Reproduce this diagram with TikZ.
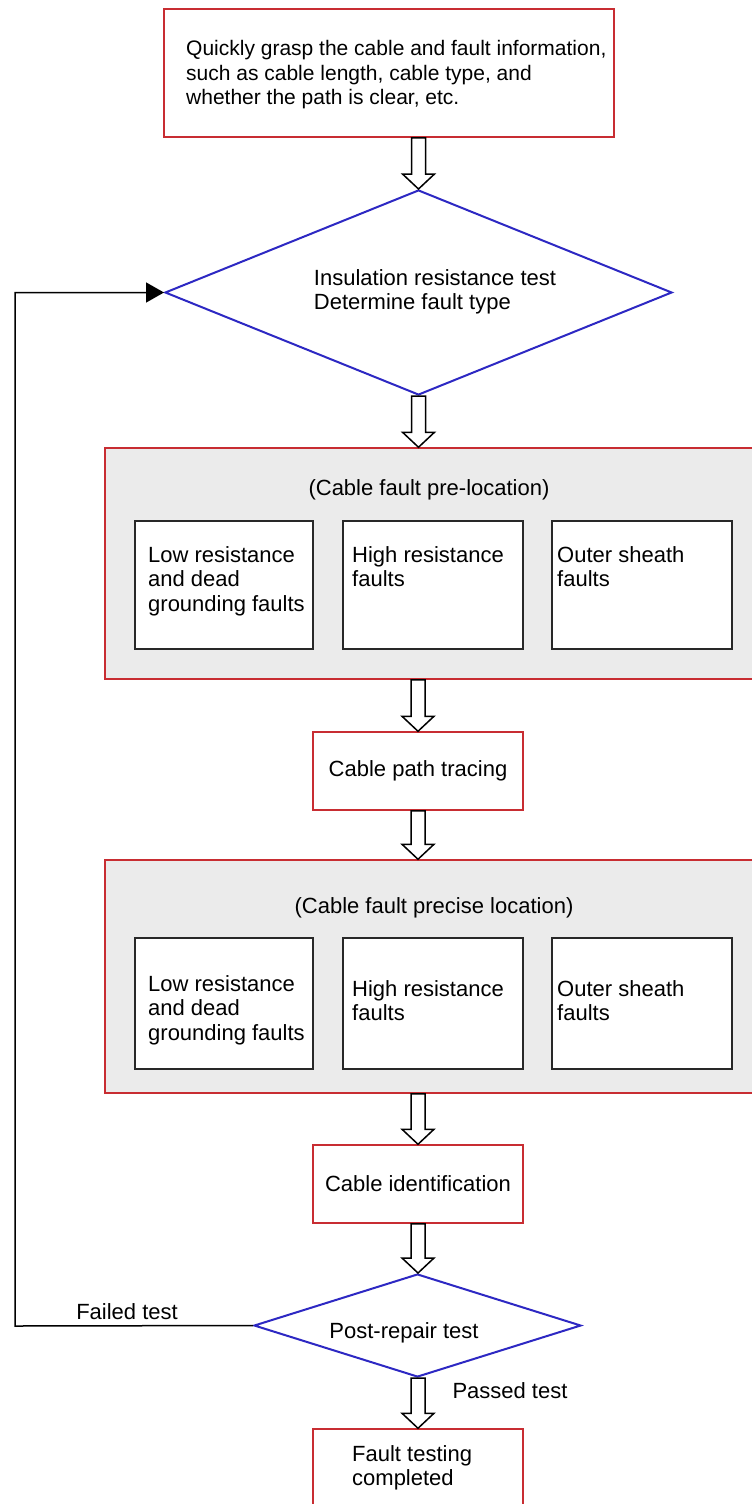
\documentclass[tikz,border=0pt]{standalone}
\usepackage{fontspec}
\setmainfont{Liberation Sans}
\usetikzlibrary{shapes.geometric,calc,arrows.meta}
\definecolor{redc}{RGB}{200,45,50}
\definecolor{bluec}{RGB}{45,40,195}
\definecolor{grayc}{RGB}{235,235,235}
\definecolor{boxc}{RGB}{40,40,40}
\newcommand\harrow[3]{\draw[hollow] let \p1=(#1), \p2=(#2), \p3=(#3) in
  (\x3-7pt,\y1) -- (\x3-7pt,\y2+15pt) -- (\x3-16pt,\y2+15pt) -- (\x3,\y2)
  -- (\x3+16pt,\y2+15pt) -- (\x3+7pt,\y2+15pt) -- (\x3+7pt,\y1) -- cycle;}
\begin{document}
\begin{tikzpicture}[x=1pt,y=-1pt,
  txt/.style={font=\fontsize{22}{24.5}\selectfont, inner sep=0pt, align=left},
  redbox/.style={draw=redc, line width=1.5pt, fill=white, rectangle, inner sep=0pt, txt, align=center},
  grpbox/.style={draw=redc, line width=1.5pt, fill=grayc, rectangle, inner sep=0pt},
  inbox/.style={draw=boxc, line width=1.8pt, fill=white, rectangle, inner sep=0pt},
  dia/.style={diamond, draw=bluec, line width=2pt, fill=white, inner sep=0pt},
  hollow/.style={draw=black, line width=1.5pt, fill=white, line join=miter},
  fb/.style={draw=black, line width=1.5pt}]
\useasboundingbox[fill=white] (0,0) rectangle (752,1504);

% top box
\node[redbox, minimum width=450pt, minimum height=128pt] (info) at (389,73) {};
\node[txt, anchor=west, font=\fontsize{21}{24.5}\selectfont] (infot) at (186,75)
  {Quickly grasp the cable and fault information,\\such as cable length, cable type, and\\whether the path is clear, etc.};

% diamond 1
\node[dia, minimum width=507pt, minimum height=205pt] (dia1) at (418.5,292.5) {};
\node[txt] (dia1t) at (435,292) {Insulation resistance test\\Determine fault type};

% group 1
\node[grpbox, minimum width=665pt, minimum height=231pt] (grp1) at (437.5,563.5) {};
\node[txt] (grp1t) at (429,490) {(Cable fault pre-location)};
\node[inbox, minimum width=178pt, minimum height=128pt] (b11) at (224,585) {};
\node[inbox, minimum width=180pt, minimum height=128pt] (b12) at (433,585) {};
\node[inbox, minimum width=180pt, minimum height=128pt] (b13) at (642,585) {};
\node[txt, anchor=north west] (b11t) at (148,546) {Low resistance\\and dead\\grounding faults};
\node[txt, anchor=north west] (b12t) at (352,546) {High resistance\\faults};
\node[txt, anchor=north west] (b13t) at (557,546) {Outer sheath\\faults};

% cable path tracing
\node[redbox, minimum width=210pt, minimum height=78pt] (trace) at (418,771) {Cable path tracing};

% group 2
\node[grpbox, minimum width=665pt, minimum height=233pt] (grp2) at (437.5,976.5) {};
\node[txt] (grp2t) at (434,908) {(Cable fault precise location)};
\node[inbox, minimum width=178pt, minimum height=131pt] (b21) at (224,1003.5) {};
\node[inbox, minimum width=180pt, minimum height=131pt] (b22) at (433,1003.5) {};
\node[inbox, minimum width=180pt, minimum height=131pt] (b23) at (642,1003.5) {};
\node[txt, anchor=north west] (b21t) at (148,975) {Low resistance\\and dead\\grounding faults};
\node[txt, anchor=north west] (b22t) at (352,980) {High resistance\\faults};
\node[txt, anchor=north west] (b23t) at (557,980) {Outer sheath\\faults};

% cable identification
\node[redbox, minimum width=210pt, minimum height=78pt] (ident) at (418,1184) {Cable identification};

% diamond 2
\node[dia, minimum width=327pt, minimum height=103pt] (dia2) at (417.5,1325.5) {};
\node[txt] (dia2t) at (404,1333) {Post-repair test};

% final box
\node[redbox, minimum width=210pt, minimum height=100pt] (done) at (418,1479) {};
\node[txt, anchor=north west] (donet) at (352,1445) {Fault testing\\completed};

% hollow arrows
\harrow{info.south}{dia1.north}{dia1.north}
\harrow{dia1.south}{grp1.north -| dia1.south}{dia1.south}
\harrow{grp1.south -| trace.north}{trace.north}{trace.north}
\harrow{trace.south}{grp2.north -| trace.south}{trace.south}
\harrow{grp2.south -| ident.north}{ident.north}{ident.north}
\harrow{ident.south}{dia2.north}{ident.south}
\harrow{dia2.south}{done.north}{done.north}

% feedback loop
\coordinate (fbc) at (15,1326);
\draw[fb, -{Triangle[length=18pt,width=20pt]}] (dia2.west) -- (fbc) |- (dia1.west);
\node[txt] (failed) at (127,1312) {Failed test};
\node[txt] (passed) at (510,1391) {Passed test};
\end{tikzpicture}
\end{document}
